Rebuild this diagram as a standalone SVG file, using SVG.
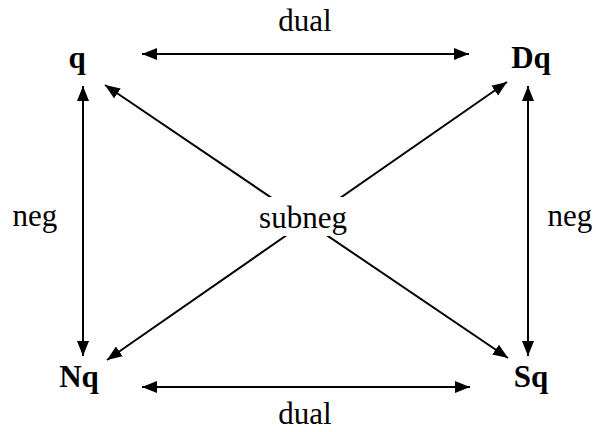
<svg xmlns="http://www.w3.org/2000/svg" width="596" height="432" viewBox="0 0 596 432">
  <style>
    .lbl { font-family: 'Liberation Serif', serif; font-size: 31px; fill: #000; text-anchor: middle; }
    .node { font-family: 'Liberation Serif', serif; font-size: 31px; font-weight: bold; fill: #000; text-anchor: middle; }
    .edge { stroke: #000; stroke-width: 2; fill: none; marker-start: url(#ah); marker-end: url(#ah); }
  </style>
  <defs>
    <marker id="ah" markerUnits="userSpaceOnUse" markerWidth="15" markerHeight="12" refX="15" refY="6" orient="auto-start-reverse" viewBox="0 0 15 12">
      <path d="M0,0 L15,6 L0,12 z" fill="#000"/>
    </marker>
  </defs>
  <rect width="596" height="432" fill="#fff"/>
  <g id="connectors">
    <line class="edge" x1="142" y1="54" x2="469" y2="54"/>
    <line class="edge" x1="142" y1="387" x2="470" y2="387"/>
    <line class="edge" x1="83" y1="86" x2="83" y2="356"/>
    <line class="edge" x1="528" y1="86" x2="528" y2="356"/>
    <line class="edge" x1="105" y1="85" x2="508" y2="358"/>
    <line class="edge" x1="507" y1="82" x2="107" y2="360"/>
    <rect x="250" y="197" width="106" height="39" fill="#fff"/>
  </g>
  <g id="labels">
    <text class="lbl" x="305" y="31">dual</text>
    <text class="lbl" x="305" y="424">dual</text>
    <text class="lbl" x="35" y="226">neg</text>
    <text class="lbl" x="570" y="226">neg</text>
    <text class="lbl" x="303" y="228">subneg</text>
  </g>
  <g id="node-q"><text class="node" x="77" y="68">q</text></g>
  <g id="node-Dq"><text class="node" x="531" y="68">Dq</text></g>
  <g id="node-Nq"><text class="node" x="79" y="387">Nq</text></g>
  <g id="node-Sq"><text class="node" x="531" y="387">Sq</text></g>
</svg>
